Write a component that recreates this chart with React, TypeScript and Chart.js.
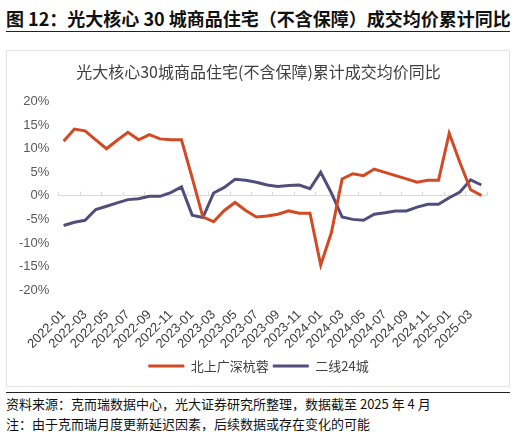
import React, { useEffect, useRef } from "react";
import { Chart, registerables } from "chart.js";

Chart.register(...registerables);

const months: string[] = [
  "2022-01", "2022-02", "2022-03", "2022-04", "2022-05", "2022-06",
  "2022-07", "2022-08", "2022-09", "2022-10", "2022-11", "2022-12",
  "2023-01", "2023-02", "2023-03", "2023-04", "2023-05", "2023-06",
  "2023-07", "2023-08", "2023-09", "2023-10", "2023-11", "2023-12",
  "2024-01", "2024-02", "2024-03", "2024-04", "2024-05", "2024-06",
  "2024-07", "2024-08", "2024-09", "2024-10", "2024-11", "2024-12",
  "2025-01", "2025-02", "2025-03", "2025-04",
];

const tier1Name = "北上广深杭蓉";
const tier1: number[] = [
  11.6, 14.2, 13.8, 11.9, 10.0, 11.8, 13.5, 11.9, 13.0, 12.1,
  11.9, 11.9, 3.8, -4.5, -5.5, -3.1, -1.4, -3.1, -4.5, -4.3,
  -3.9, -3.2, -3.7, -3.7, -14.7, -7.8, 3.6, 4.7, 4.3, 5.7,
  5.0, 4.3, 3.6, 2.9, 3.3, 3.3, 13.3, 7.1, 1.3, 0.1,
];

const tier2Name = "二线24城";
const tier2: number[] = [
  -6.3, -5.6, -5.2, -2.9, -2.2, -1.5, -0.8, -0.6, -0.1, -0.1,
  0.7, 1.9, -4.1, -4.6, 0.6, 1.8, 3.5, 3.3, 2.9, 2.3,
  2.0, 2.2, 2.3, 1.5, 5.0, 0.6, -4.5, -5.0, -5.2, -3.9,
  -3.6, -3.2, -3.2, -2.4, -1.8, -1.8, -0.4, 0.8, 3.4, 2.3,
];

const yTicks: number[] = [20, 15, 10, 5, 0, -5, -10, -15, -20];

const chartTitle = "光大核心30城商品住宅(不含保障)累计成交均价同比";
const figureTitle = "图 12：光大核心 30 城商品住宅（不含保障）成交均价累计同比";
const sourceNote = "资料来源：克而瑞数据中心，光大证券研究所整理，数据截至 2025 年 4 月";
const footNote = "注：由于克而瑞月度更新延迟因素，后续数据或存在变化的可能";

const CJK = '"Noto Sans CJK SC", "Noto Sans", sans-serif';
const NUM = '"Liberation Sans", Arial, sans-serif';

const zeroTicks = {
  id: "zeroTicks",
  beforeDatasetsDraw(chart: any) {
    const x = chart.scales.x;
    const y = chart.scales.y;
    const y0 = y.getPixelForValue(0);
    const half = (x.getPixelForValue(1) - x.getPixelForValue(0)) / 2;
    const ctx = chart.ctx;
    ctx.save();
    ctx.strokeStyle = "#d9d9d9";
    ctx.lineWidth = 1;
    ctx.beginPath();
    for (let i = 0; i <= months.length; i += 2) {
      const px =
        i < months.length
          ? x.getPixelForValue(i) - half
          : x.getPixelForValue(months.length - 1) + half;
      ctx.moveTo(Math.round(px) + 0.5, y0);
      ctx.lineTo(Math.round(px) + 0.5, y0 - 4);
    }
    ctx.stroke();
    ctx.restore();
  },
};

function LineChart() {
  const ref = useRef<HTMLCanvasElement | null>(null);
  useEffect(() => {
    if (!ref.current) return;
    const chart = new Chart(ref.current, {
      type: "line",
      data: {
        labels: months,
        datasets: [
          {
            label: tier1Name,
            data: tier1,
            borderColor: "#D14A24",
            backgroundColor: "#D14A24",
            borderWidth: 3,
            pointRadius: 0,
            tension: 0,
          },
          {
            label: tier2Name,
            data: tier2,
            borderColor: "#524E7C",
            backgroundColor: "#524E7C",
            borderWidth: 3,
            pointRadius: 0,
            tension: 0,
          },
        ],
      },
      options: {
        responsive: false,
        animation: false,
        layout: { padding: { left: 0, right: 0, top: 0, bottom: 4.5 } },
        plugins: {
          title: {
            display: true,
            text: chartTitle,
            color: "#404040",
            font: { family: CJK, size: 16, weight: "normal" },
            padding: { top: 11.4, bottom: 20.1 },
          },
          legend: {
            position: "bottom",
            labels: {
              usePointStyle: true,
              pointStyle: "line",
              pointStyleWidth: 36,
              padding: 4,
              color: "#404040",
              font: { family: CJK, size: 13 },
            },
          },
          tooltip: { enabled: false },
        },
        scales: {
          x: {
            type: "category",
            offset: true,
            grid: { display: false, drawTicks: false },
            border: { display: false },
            ticks: {
              autoSkip: false,
              minRotation: 45,
              maxRotation: 45,
              padding: 17,
              color: "#404040",
              font: { family: NUM, size: 13 },
              callback: (_v: any, i: number) => (i % 2 === 0 ? months[i] : null),
            },
            afterFit: (s: any) => {
              s.height = 65.5;
            },
          },
          y: {
            min: -20,
            max: 20,
            grid: {
              drawTicks: false,
              color: (c: any) => (c.tick && c.tick.value === 0 ? "#d9d9d9" : "rgba(0,0,0,0)"),
            },
            border: { display: false },
            afterBuildTicks: (s: any) => {
              s.ticks = yTicks.map((v) => ({ value: v }));
            },
            ticks: {
              padding: 9,
              color: "#595959",
              font: { family: NUM, size: 13 },
              callback: (v: any) => `${v}%`,
            },
            afterFit: (s: any) => {
              s.width = 51.3;
            },
          },
          yRight: {
            type: "linear",
            position: "right",
            min: -20,
            max: 20,
            grid: { display: false, drawTicks: false },
            border: { display: false },
            ticks: { display: false },
            afterFit: (s: any) => {
              s.width = 23.3;
            },
          },
        },
      },
      plugins: [zeroTicks],
    });
    return () => chart.destroy();
  }, []);
  return (
    <canvas
      ref={ref}
      width={503}
      height={336}
      style={{ position: "absolute", left: 7, top: 51, width: 503, height: 336 }}
    />
  );
}

export default function App() {
  return (
    <div
      style={{
        position: "absolute",
        left: 0,
        top: 0,
        width: 516,
        height: 432,
        background: "#fff",
        overflow: "hidden",
      }}
    >
      <div
        style={{
          position: "absolute",
          left: 6,
          top: 4,
          width: 510,
          lineHeight: "28px",
          fontFamily: CJK,
          fontSize: 18,
          fontWeight: "bold",
          color: "#111",
          whiteSpace: "nowrap",
        }}
      >
        {figureTitle}
      </div>
      <div
        style={{
          position: "absolute",
          left: 6,
          top: 31,
          width: 504,
          height: 0,
          borderTop: "1.5px solid #222",
        }}
      />
      <div
        style={{
          position: "absolute",
          left: 6,
          top: 50,
          width: 504,
          height: 337,
          border: "1px solid #e3e3e3",
          boxSizing: "border-box",
        }}
      />
      <LineChart />
      <div
        style={{
          position: "absolute",
          left: 6,
          top: 392,
          width: 504,
          height: 0,
          borderTop: "1.5px solid #222",
        }}
      />
      <div
        style={{
          position: "absolute",
          left: 6,
          top: 394,
          lineHeight: "20px",
          fontFamily: CJK,
          fontSize: 13,
          color: "#111",
          whiteSpace: "nowrap",
        }}
      >
        <div>{sourceNote}</div>
        <div>{footNote}</div>
      </div>
    </div>
  );
}
